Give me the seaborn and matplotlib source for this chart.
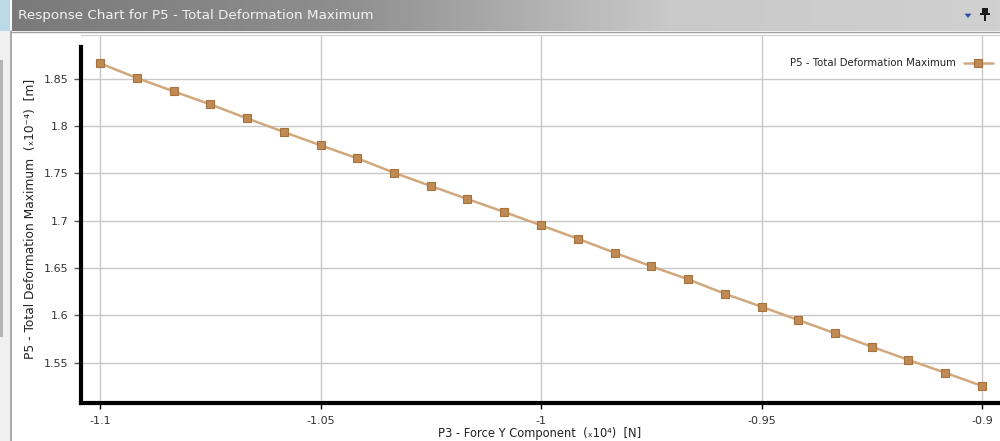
import numpy as np
import pandas as pd
import matplotlib
matplotlib.use("Agg")
import matplotlib.pyplot as plt
import seaborn as sns
from matplotlib.patches import Rectangle, Polygon

# ---- data ----
force_y = [-1.1, -1.09167, -1.08333, -1.075, -1.06667, -1.05833, -1.05, -1.04167,
           -1.03333, -1.025, -1.01667, -1.00833, -1.0, -0.99167, -0.98333, -0.975,
           -0.96667, -0.95833, -0.95, -0.94167, -0.93333, -0.925, -0.91667, -0.90833, -0.9]
deformation = [1.8665, 1.8510, 1.8369, 1.8231, 1.8083, 1.7939, 1.7798, 1.7661,
               1.7508, 1.7368, 1.7230, 1.7093, 1.6952, 1.6811, 1.6663, 1.6519,
               1.6382, 1.6229, 1.6092, 1.5951, 1.5811, 1.5669, 1.5529, 1.5394, 1.5254]
x_ticks = [-1.1, -1.05, -1.0, -0.95, -0.9]
x_tick_labels = ["-1.1", "-1.05", "-1", "-0.95", "-0.9"]
y_ticks = [1.55, 1.6, 1.65, 1.7, 1.75, 1.8, 1.85]
y_tick_labels = ["1.55", "1.6", "1.65", "1.7", "1.75", "1.8", "1.85"]
series_name = "P5 - Total Deformation Maximum"
title_text = "Response Chart for P5 - Total Deformation Maximum"
x_label = "P3 - Force Y Component  (\u209310\u2074)  [N]"
y_label = "P5 - Total Deformation Maximum  (\u209310\u207b\u2074)  [m]"

df = pd.DataFrame({"x": force_y, "y": deformation, "series": series_name})

sns.set_style("white")
plt.rcParams["font.family"] = ["DejaVu Sans"]

W, H = 1000, 441
fig = plt.figure(figsize=(W / 100, H / 100), dpi=100)
fig.patch.set_facecolor("white")

def fx(px):
    return px / W

def fy(py):
    return 1 - py / H

# left strip of the window
fig.patches.append(Rectangle((0, 0), fx(10), 1, transform=fig.transFigure,
                             facecolor="#f0f0f0", edgecolor="none", zorder=0))
fig.patches.append(Rectangle((0, fy(31)), fx(10), 31 / H, transform=fig.transFigure,
                             facecolor="#bcd9e8", edgecolor="none", zorder=0))
fig.patches.append(Rectangle((0, fy(337)), fx(2.5), (337 - 60) / H, transform=fig.transFigure,
                             facecolor="#b4b4b4", edgecolor="none", zorder=0))
fig.lines.append(plt.Line2D([fx(11), fx(11)], [0, fy(31)], transform=fig.transFigure,
                            color="#9a9a9a", lw=1.2))

# title bar with gradient
tb = fig.add_axes([fx(12), fy(31), 1 - fx(12), 31 / H])
grad = np.linspace(0, 1, 256).reshape(1, -1)
tb.imshow(grad, aspect="auto", cmap=matplotlib.colors.LinearSegmentedColormap.from_list(
    "tb", ["#7a7a7a", "#8e8e8e", "#c9c9c9", "#d0d0d0"]), extent=[0, 1, 0, 1])
tb.set_xlim(0, 1)
tb.set_ylim(0, 1)
tb.axis("off")
tb.text(6 / 988, 0.5, title_text, color="#f2f2f2", fontsize=9.7, va="center", ha="left",
        family=["DejaVu Sans"])
ac = (968 - 12) / 988
tb.add_patch(Polygon([[ac - 0.0035, 0.56], [ac + 0.0035, 0.56], [ac, 0.42]], closed=True,
                     facecolor="#2c4fa8", edgecolor="none"))
pc = (985 - 12) / 988
tb.add_patch(Rectangle((pc - 0.003, 0.55), 0.006, 0.2, facecolor="#1a1a1a", edgecolor="none"))
tb.add_patch(Rectangle((pc - 0.005, 0.52), 0.010, 0.05, facecolor="#1a1a1a", edgecolor="none"))
tb.add_patch(Rectangle((pc - 0.0008, 0.32), 0.0016, 0.22, facecolor="#1a1a1a", edgecolor="none"))
fig.lines.append(plt.Line2D([fx(11), 1], [fy(32), fy(32)], transform=fig.transFigure,
                            color="#a0a0a0", lw=1.0))

# main axes
ax_left, ax_right, ax_top, ax_bottom = 81, 1000, 35, 403
ax = fig.add_axes([fx(ax_left), fy(ax_bottom), (ax_right - ax_left) / W,
                   (ax_bottom - ax_top) / H])

line_color = "#d1a87c"
marker_face = "#c08a54"
marker_edge = "#a8723c"

sns.lineplot(data=df, x="x", y="y", hue="series", palette=[line_color], ax=ax,
             marker="s", markersize=5.5, markerfacecolor=marker_face,
             markeredgecolor=marker_edge, markeredgewidth=0.8, linewidth=1.8,
             zorder=3, sort=False)

xmin, xmax = -1.10431, -0.89592
ymin, ymax = 1.5074, 1.8964
ax.set_xlim(xmin, xmax)
ax.set_ylim(ymin, ymax)
ax.set_xticks(x_ticks)
ax.set_xticklabels(x_tick_labels)
ax.set_yticks(y_ticks)
ax.set_yticklabels(y_tick_labels)
ax.grid(True, color="#c8c8c8", linewidth=1.0)
ax.set_axisbelow(True)

ax.spines["right"].set_visible(False)
ax.spines["top"].set_color("#d4d4d4")
ax.spines["top"].set_linewidth(1.0)
ax.spines["left"].set_color("black")
ax.spines["left"].set_linewidth(3.0)
ax.spines["left"].set_bounds(ymin, 1.8837)
ax.spines["bottom"].set_color("black")
ax.spines["bottom"].set_linewidth(3.0)

ax.tick_params(axis="x", direction="out", length=4, width=1, color="black",
               labelsize=8, labelcolor="#333333", pad=5, bottom=True)
ax.tick_params(axis="y", direction="out", length=5, width=1, color="#555555",
               labelsize=8, labelcolor="#333333", pad=4, left=True)

ax.set_xlabel(x_label, fontsize=8.3, color="#222222")
ax.set_ylabel(y_label, fontsize=8.8, color="#222222")
ax.xaxis.set_label_coords((540 - ax_left) / (ax_right - ax_left),
                          -(433 - ax_bottom) / (ax_bottom - ax_top))
ax.xaxis.label.set_va("center")
ax.yaxis.set_label_coords(-(ax_left - 31) / (ax_right - ax_left),
                          (ax_bottom - 219) / (ax_bottom - ax_top))
ax.yaxis.label.set_va("center")

leg = ax.legend(loc="upper right", frameon=False, fontsize=7.3, markerfirst=False,
                handlelength=2.9, bbox_to_anchor=(1.0, 1 - 16 / (ax_bottom - ax_top)),
                borderaxespad=0.3)
for t in leg.get_texts():
    t.set_color("#222222")

fig.savefig("out.png", dpi=100, facecolor="white")
